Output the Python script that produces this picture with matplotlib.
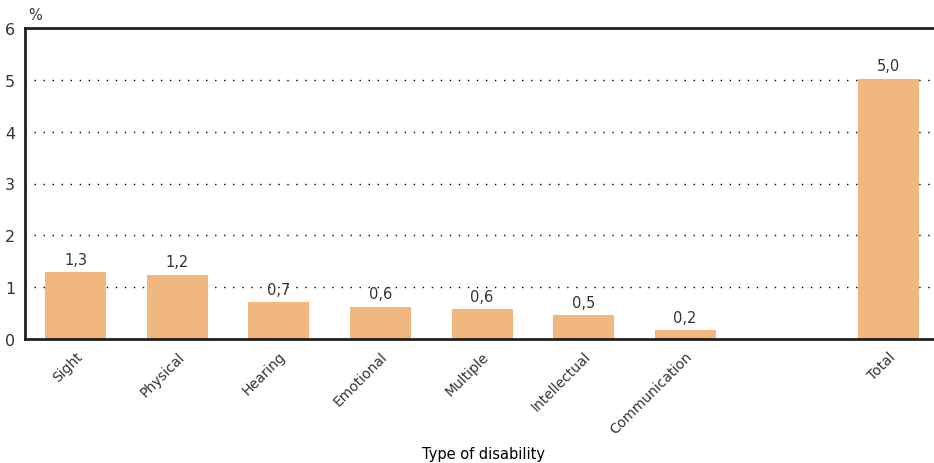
import matplotlib
matplotlib.use("Agg")
import matplotlib.pyplot as plt

categories = ["Sight", "Physical", "Hearing", "Emotional", "Multiple",
              "Intellectual", "Communication", "Total"]
slots = [0, 1, 2, 3, 4, 5, 6, 8]
values = [1.29, 1.24, 0.71, 0.62, 0.57, 0.46, 0.17, 5.02]
yticks = [0, 1, 2, 3, 4, 5, 6]

plt.rcParams['font.family'] = ['DejaVu Sans']
text_color = '#333333'
bar_color = '#f0b87e'
spine_color = '#231f20'

fig = plt.figure(figsize=(9.34, 4.64), dpi=100)
ax = fig.add_axes([25/934, 1-340/464, 1-25/934, (340-29)/464])

for y in yticks[1:-1]:
    ax.axhline(y, color='black', lw=1.0, linestyle=(0, (1, 5.5)), zorder=1)

ax.bar(slots, values, width=0.6, color=bar_color, zorder=2)

for x, v in zip(slots, values):
    ax.annotate(f"{v:.1f}".replace('.', ','), (x, v), xytext=(0, 4),
                textcoords='offset points', ha='center', va='bottom',
                fontsize=10.5, color=text_color)

ax.set_xlim(-0.5, 8.45)
ax.set_ylim(0, 6)
ax.set_yticks(yticks)
ax.set_yticklabels([str(t) for t in yticks], fontsize=11.5, color=text_color)
ax.set_xticks(slots)
ax.set_xticklabels(categories, rotation=45, ha='right', rotation_mode='anchor',
                   fontsize=10, color=text_color)
ax.tick_params(axis='both', length=0)
ax.tick_params(axis='y', pad=7)
ax.tick_params(axis='x', pad=7)

for side in ['left', 'top', 'bottom']:
    ax.spines[side].set_color(spine_color)
    ax.spines[side].set_linewidth(2.0)
ax.spines['right'].set_visible(False)

ax.text(-0.4, 6.12, "%", fontsize=10.5, color=text_color, ha='center', va='bottom')
fig.text(483/934, 1-455/464, "Type of disability", fontsize=10.5, color='black',
         ha='center', va='center')

fig.savefig("out.png", dpi=100)
